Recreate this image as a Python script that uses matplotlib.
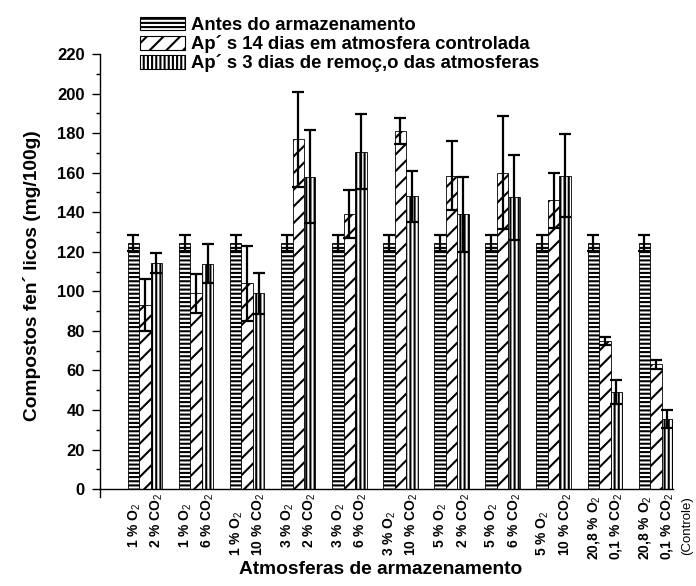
import matplotlib
matplotlib.use('Agg')
import matplotlib.pyplot as plt
import numpy as np
from matplotlib.patches import Patch

plt.rcParams['font.family'] = ['Liberation Sans', 'DejaVu Sans']
plt.rcParams['mathtext.fontset'] = 'custom'
plt.rcParams['mathtext.rm'] = 'Liberation Sans'
plt.rcParams['mathtext.it'] = 'Liberation Sans'
plt.rcParams['mathtext.bf'] = 'Liberation Sans:bold'
plt.rcParams['hatch.linewidth'] = 1.5

# ---- data ----
o2_labels = ['1 % O$_2$', '1 % O$_2$', '1 % O$_2$', '3 % O$_2$', '3 % O$_2$', '3 % O$_2$',
             '5 % O$_2$', '5 % O$_2$', '5 % O$_2$', '20,8 % O$_2$', '20,8 % O$_2$']
co2_labels = ['2 % CO$_2$', '6 % CO$_2$', '10 % CO$_2$', '2 % CO$_2$', '6 % CO$_2$', '10 % CO$_2$',
              '2 % CO$_2$', '6 % CO$_2$', '10 % CO$_2$', '0,1 % CO$_2$', '0,1 % CO$_2$']
control_note = '(Controle)'

antes = [124.5, 124.5, 124.5, 124.5, 124.5, 124.5, 124.5, 124.5, 124.5, 124.5, 124.5]
antes_err = [4, 4, 4, 4, 4, 4, 4, 4, 4, 4, 4]
apos14 = [93, 99, 104, 177, 139, 181, 158.5, 160, 146, 75, 63]
apos14_err = [13, 10, 19, 24, 12, 6.5, 17.5, 28.5, 14, 2, 2.5]
apos3 = [114.5, 114, 99, 158, 170.5, 148, 139, 147.5, 158.5, 49, 35.5]
apos3_err = [5, 10, 10.5, 23.5, 19, 13, 19, 21.5, 21, 6, 4.5]

series_labels = ['Antes do armazenamento',
                 'Ap\u00b4 s 14 dias em atmosfera controlada',
                 'Ap\u00b4 s 3 dias de remo\u00e7\u201ao das atmosferas']
hatches = ['----', '//', '||||']

# ---- figure ----
fig = plt.figure(figsize=(6.96, 5.86), dpi=100)
ax = fig.add_axes([100/696, (586-497)/586, 573.3/696, (497-54)/586])

x = np.arange(len(o2_labels))
w = 0.225
handles = []
for k, (vals, errs) in enumerate([(antes, antes_err), (apos14, apos14_err), (apos3, apos3_err)]):
    pos = x + (k - 1) * w
    ax.bar(pos, vals, width=w, color='white', edgecolor='black', linewidth=0.6,
           hatch=hatches[k], zorder=2)
    ax.errorbar(pos, vals, yerr=errs, fmt='none', ecolor='black', elinewidth=1.6,
                capsize=4, capthick=1.6, zorder=3)
    handles.append(Patch(facecolor='white', edgecolor='black', linewidth=0.8, hatch=hatches[k]))

ax.set_xlim(-0.88, 10.34)
ax.set_ylim(-4, 220)
ax.set_yticks(np.arange(0, 221, 20))
ax.set_yticks(np.arange(10, 220, 20), minor=True)
ax.tick_params(axis='y', which='major', length=6, width=1, direction='out', pad=5,
               labelsize=12)
ax.tick_params(axis='y', which='minor', length=3, width=1, direction='out')
for lab in ax.get_yticklabels():
    lab.set_fontweight('bold')
ax.set_xticks([])

ax.spines['top'].set_visible(False)
ax.spines['right'].set_visible(False)
ax.spines['bottom'].set_position(('data', 0))
ax.spines['left'].set_linewidth(1)
ax.spines['bottom'].set_linewidth(1)

for i in range(len(o2_labels)):
    ax.annotate(o2_labels[i] + '\n' + co2_labels[i], xy=(x[i], 0), xycoords='data',
                xytext=(-13.5, -2.5), textcoords='offset points', rotation=90,
                ha='left', va='top', multialignment='left', fontsize=10,
                fontweight='bold', linespacing=1.5, annotation_clip=False)
ax.annotate(control_note, xy=(x[-1], 0), xycoords='data', xytext=(18.5, -5.5),
            textcoords='offset points', rotation=90, ha='left', va='top',
            fontsize=9.5, annotation_clip=False)

ax.set_ylabel('Compostos fen\u00b4 licos (mg/100g)', fontsize=13.8, fontweight='bold')
ax.yaxis.set_label_coords(-0.103, 0.5)
ax.set_xlabel('Atmosferas de armazenamento', fontsize=13.8, fontweight='bold')
ax.xaxis.set_label_coords(0.49, -0.145)
ax.xaxis.label.set_verticalalignment('top')

fig.legend(handles, series_labels, loc='upper left', bbox_to_anchor=(131/696, 1 - 8/586),
           frameon=False, borderpad=0, handlelength=2.4, handleheight=0.72,
           handletextpad=0.33, labelspacing=0.06,
           prop={'weight': 'bold', 'size': 13.3})

fig.savefig('out.png', dpi=100)
